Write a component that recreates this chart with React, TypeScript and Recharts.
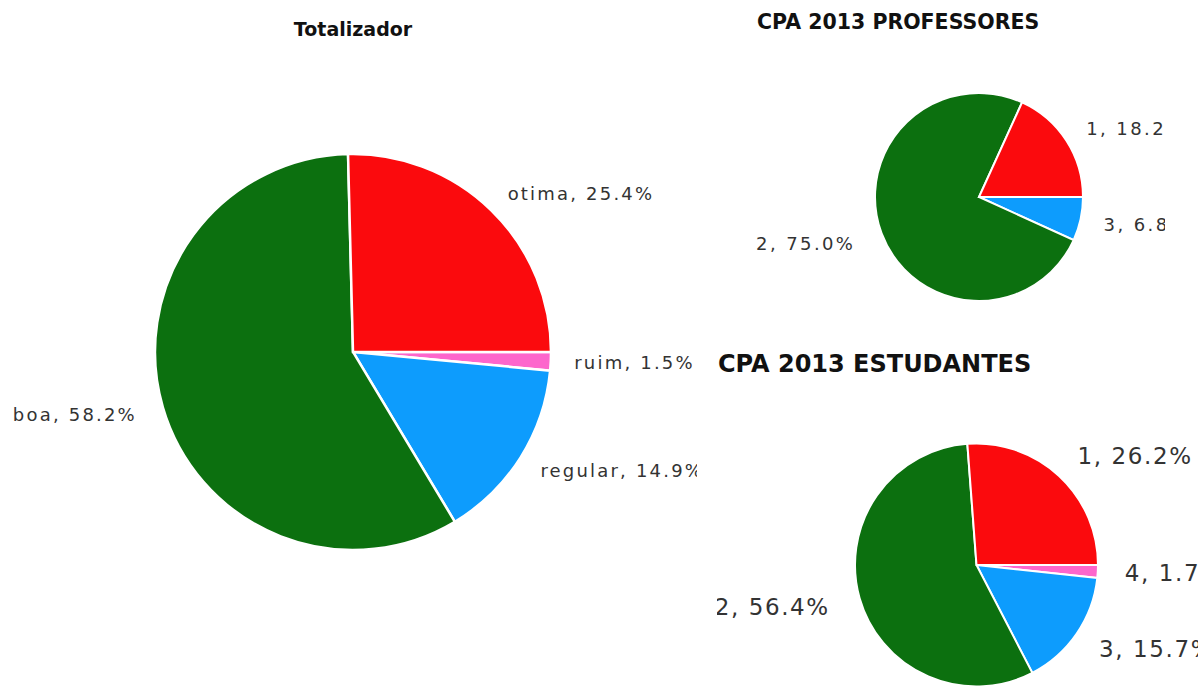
import React from 'react';
import { PieChart, Pie, Cell } from 'recharts';

// Totalizador (clockwise from 3 o'clock)
const totalCategories = ['ruim', 'regular', 'boa', 'otima'];
const totalValues = [1.5, 14.9, 58.2, 25.4];

// CPA 2013 PROFESSORES
const profCategories = ['3', '2', '1'];
const profValues = [6.8, 75.0, 18.2];

// CPA 2013 ESTUDANTES
const estCategories = ['4', '3', '2', '1'];
const estValues = [1.7, 15.7, 56.4, 26.2];

const titles = ['Totalizador', 'CPA 2013 PROFESSORES', 'CPA 2013 ESTUDANTES'];

const colorByCategory: Record<string, string> = {
  otima: '#fb0a0d',
  '1': '#fb0a0d',
  boa: '#0c700f',
  '2': '#0c700f',
  regular: '#0d9cfd',
  '3': '#0d9cfd',
  ruim: '#fd66cc',
  '4': '#fd66cc',
};

const build = (cats: string[], vals: number[]) => cats.map((c, i) => ({ name: c, value: vals[i] }));

const makeLabel = (fontSize: number, ls: number, dRight: number, dLeft: number) => (props: any) => {
  const { cx, cy, midAngle, outerRadius, name, percent } = props;
  const RAD = Math.PI / 180;
  const cos = Math.cos(-midAngle * RAD);
  const sin = Math.sin(-midAngle * RAD);
  const r = outerRadius + (cos >= 0 ? dRight : dLeft);
  const x = cx + r * cos;
  const y = cy + r * sin;
  return (
    <text
      x={x}
      y={y}
      textAnchor={cos >= 0 ? 'start' : 'end'}
      dominantBaseline="central"
      fill="#333"
      fontSize={fontSize}
      letterSpacing={ls}
      fontFamily="'DejaVu Sans', Verdana, sans-serif"
    >
      {`${name}, ${(percent * 100).toFixed(1)}%`}
    </text>
  );
};

type PanelProps = {
  left: number; top: number; width: number; height: number;
  data: { name: string; value: number }[];
  cx: number; cy: number; r: number;
  title: string; titleX: number; titleY: number; titleSize: number; titleAnchor: 'center' | 'left';
  labelSize: number; labelLs: number; dRight: number; dLeft: number; strokeW: number;
};

const Panel = (p: PanelProps) => (
  <div style={{ position: 'absolute', left: p.left, top: p.top, width: p.width, height: p.height, overflow: 'hidden' }}>
    <div
      style={{
        position: 'absolute',
        left: p.titleAnchor === 'center' ? p.titleX - 200 : p.titleX,
        width: p.titleAnchor === 'center' ? 400 : undefined,
        textAlign: p.titleAnchor === 'center' ? 'center' : 'left',
        top: p.titleY - p.titleSize * 0.6,
        fontSize: p.titleSize,
        lineHeight: `${p.titleSize * 1.2}px`,
        fontWeight: 'bold',
        fontFamily: "'DejaVu Sans', Verdana, sans-serif",
        color: '#111',
        whiteSpace: 'nowrap',
      }}
    >
      {p.title}
    </div>
    <PieChart
      width={p.width}
      height={p.height}
      margin={{ top: 0, right: 0, bottom: 0, left: 0 }}
      style={{ position: 'absolute', left: 0, top: 0 }}
    >
      <Pie
        data={p.data}
        dataKey="value"
        nameKey="name"
        cx={p.cx}
        cy={p.cy}
        outerRadius={p.r}
        startAngle={0}
        endAngle={-360}
        label={makeLabel(p.labelSize, p.labelLs, p.dRight, p.dLeft)}
        labelLine={false}
        isAnimationActive={false}
        stroke="#fff"
        strokeWidth={p.strokeW}
      >
        {p.data.map((d) => (
          <Cell key={d.name} fill={colorByCategory[d.name]} />
        ))}
      </Pie>
    </PieChart>
  </div>
);

export default function App() {
  return (
    <div style={{ position: 'absolute', left: 0, top: 0, width: 1202, height: 686, background: '#fff', overflow: 'hidden' }}>
      <Panel
        left={0} top={0} width={697} height={686}
        data={build(totalCategories, totalValues)}
        cx={353} cy={352} r={198}
        title={titles[0]} titleX={353} titleY={29} titleSize={19} titleAnchor="center"
        labelSize={18} labelLs={2.2} dRight={23.5} dLeft={27} strokeW={2.5}
      />
      <Panel
        left={740} top={0} width={425} height={330}
        data={build(profCategories, profValues)}
        cx={239} cy={197} r={104}
        title={titles[1]} titleX={17} titleY={22} titleSize={20.5} titleAnchor="left"
        labelSize={18} labelLs={2.4} dRight={23.5} dLeft={28} strokeW={2}
      />
      <Panel
        left={717} top={330} width={481} height={356}
        data={build(estCategories, estValues)}
        cx={259.5} cy={235} r={121.5}
        title={titles[2]} titleX={1} titleY={34} titleSize={24} titleAnchor="left"
        labelSize={23} labelLs={1.6} dRight={27} dLeft={31} strokeW={2}
      />
    </div>
  );
}
